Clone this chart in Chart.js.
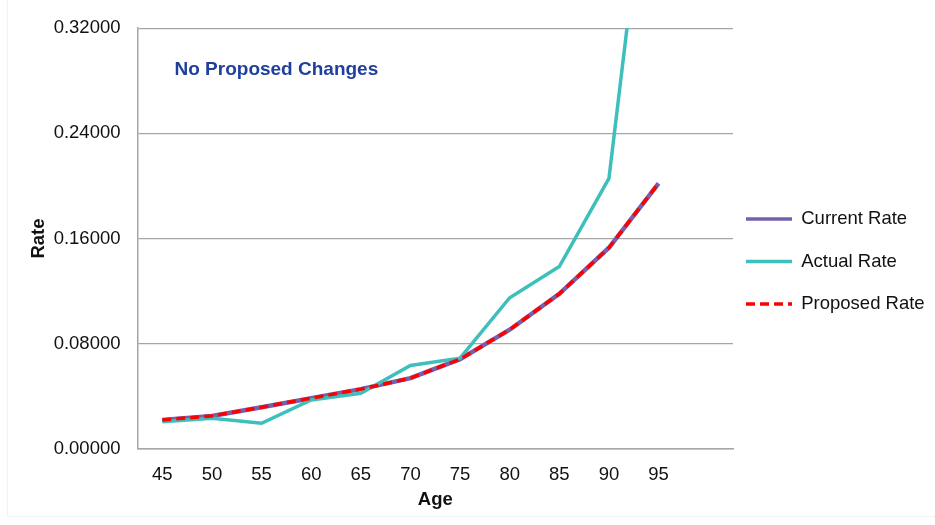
<!DOCTYPE html>
<html>
<head>
<meta charset="utf-8">
<script src="https://cdn.jsdelivr.net/npm/chart.js@4/dist/chart.umd.min.js"></script>
<style>
    html, body { margin: 0; padding: 0; background: #fff; }
    #wrap { position: relative; width: 935px; height: 525px; }
    #frame { position: absolute; left: 7px; top: 0; width: 928px; height: 517px; border-left: 1px solid #f2f2f2; border-bottom: 1px solid #f2f2f2; box-sizing: border-box; pointer-events: none; }
</style>
</head>
<body>
<div id="wrap">
    <canvas id="rate-chart" width="935" height="525"></canvas>
    <div id="frame"></div>
</div>
<script>
// возраст (последняя пустая категория - запас справа, как в оригинале)
const ages = ['45', '50', '55', '60', '65', '70', '75', '80', '85', '90', '95', ''];

const currentRate = [0.0221, 0.0251, 0.0318, 0.0386, 0.0455, 0.0539, 0.0683, 0.0907, 0.1180, 0.1530, 0.2020];
const actualRate = [0.0208, 0.0234, 0.0196, 0.0373, 0.0424, 0.0635, 0.0691, 0.1150, 0.1387, 0.2057, 0.5200];
const proposedRate = [0.0221, 0.0251, 0.0318, 0.0386, 0.0455, 0.0539, 0.0683, 0.0907, 0.1180, 0.1530, 0.2020];

const yTicks = [0, 0.08, 0.16, 0.24, 0.32];

const fontFamily = '"Liberation Sans", Arial, sans-serif';
const gridColor = '#a6a6a6';

// надпись в левом верхнем углу графика
const notePlugin = {
    id: 'note',
    afterDraw(chart) {
        const {ctx, chartArea} = chart;
        ctx.save();
        ctx.font = 'bold 19px ' + fontFamily;
        ctx.fillStyle = '#1f3f9f';
        ctx.textBaseline = 'middle';
        ctx.fillText('No Proposed Changes', chartArea.left + 37, chartArea.top + 42);
        ctx.restore();
    }
};

// сдвиг легенды: padding у легенды один и для отступа слева, и между строками
const legendShift = {
    id: 'legendShift',
    afterLayout(chart) {
        const legend = chart.legend;
        legend.left -= 11;
        legend.right -= 11;
        legend.top -= 8;
        legend.bottom -= 8;
    }
};

let plotRate = document.querySelector('#rate-chart');

const rateChart = new Chart(plotRate, {
    type: 'line',
    data: {
        labels: ages,
        datasets: [
            {
                label: 'Current Rate',
                data: currentRate,
                borderColor: '#7460ae',
                backgroundColor: '#7460ae',
                borderWidth: 4.5,
                pointRadius: 0,
                tension: 0,
                order: 3
            },
            {
                label: 'Actual Rate',
                data: actualRate,
                borderColor: '#3ebfbc',
                backgroundColor: '#3ebfbc',
                borderWidth: 3.5,
                pointRadius: 0,
                tension: 0,
                order: 2
            },
            {
                label: 'Proposed Rate',
                data: proposedRate,
                borderColor: '#ff0000',
                backgroundColor: '#ff0000',
                borderWidth: 3.5,
                borderDash: [9, 5],
                pointRadius: 0,
                tension: 0,
                order: 1
            }
        ]
    },
    options: {
        responsive: false,
        animation: false,
        layout: {
            padding: {left: 28, top: 28, right: 0, bottom: 14}
        },
        scales: {
            x: {
                offset: true,
                grid: {display: false, drawTicks: false},
                border: {color: gridColor, width: 1.5},
                ticks: {
                    color: '#111',
                    font: {family: fontFamily, size: 18.5},
                    padding: 15,
                    maxRotation: 0,
                    autoSkip: false
                },
                title: {
                    display: true,
                    text: 'Age',
                    color: '#111',
                    font: {family: fontFamily, size: 18.5, weight: 'bold'},
                    padding: 0
                },
                afterFit(scale) {
                    scale.height = 62;
                }
            },
            y: {
                min: 0,
                max: 0.32,
                grid: {color: gridColor, lineWidth: 1.2, drawTicks: false},
                border: {color: gridColor, width: 1.5},
                afterBuildTicks(scale) {
                    scale.ticks = yTicks.map(v => ({value: v}));
                },
                ticks: {
                    color: '#111',
                    font: {family: fontFamily, size: 18.5},
                    padding: 17,
                    callback: v => Number(v).toFixed(5)
                },
                title: {
                    display: true,
                    text: 'Rate',
                    color: '#111',
                    font: {family: fontFamily, size: 18.5, weight: 'bold'},
                    padding: 0
                },
                afterFit(scale) {
                    scale.width = 109.5;
                }
            }
        },
        plugins: {
            legend: {
                position: 'right',
                maxWidth: 202,
                labels: {
                    color: '#111',
                    font: {family: fontFamily, size: 18.5},
                    usePointStyle: true,
                    pointStyle: 'line',
                    pointStyleWidth: 46,
                    boxWidth: 46,
                    padding: 24,
                    // штрих берем из самого набора данных, иначе в легенде сплошная линия
                    generateLabels(chart) {
                        const items = Chart.defaults.plugins.legend.labels.generateLabels(chart);
                        items.forEach(item => {
                            const ds = chart.data.datasets[item.datasetIndex];
                            item.lineDash = ds.borderDash || [];
                            item.lineWidth = 3.5;
                            item.strokeStyle = ds.borderColor;
                        });
                        return items.sort((a, b) => a.datasetIndex - b.datasetIndex);
                    }
                }
            },
            tooltip: {enabled: false}
        }
    },
    plugins: [notePlugin, legendShift]
});
</script>
</body>
</html>
